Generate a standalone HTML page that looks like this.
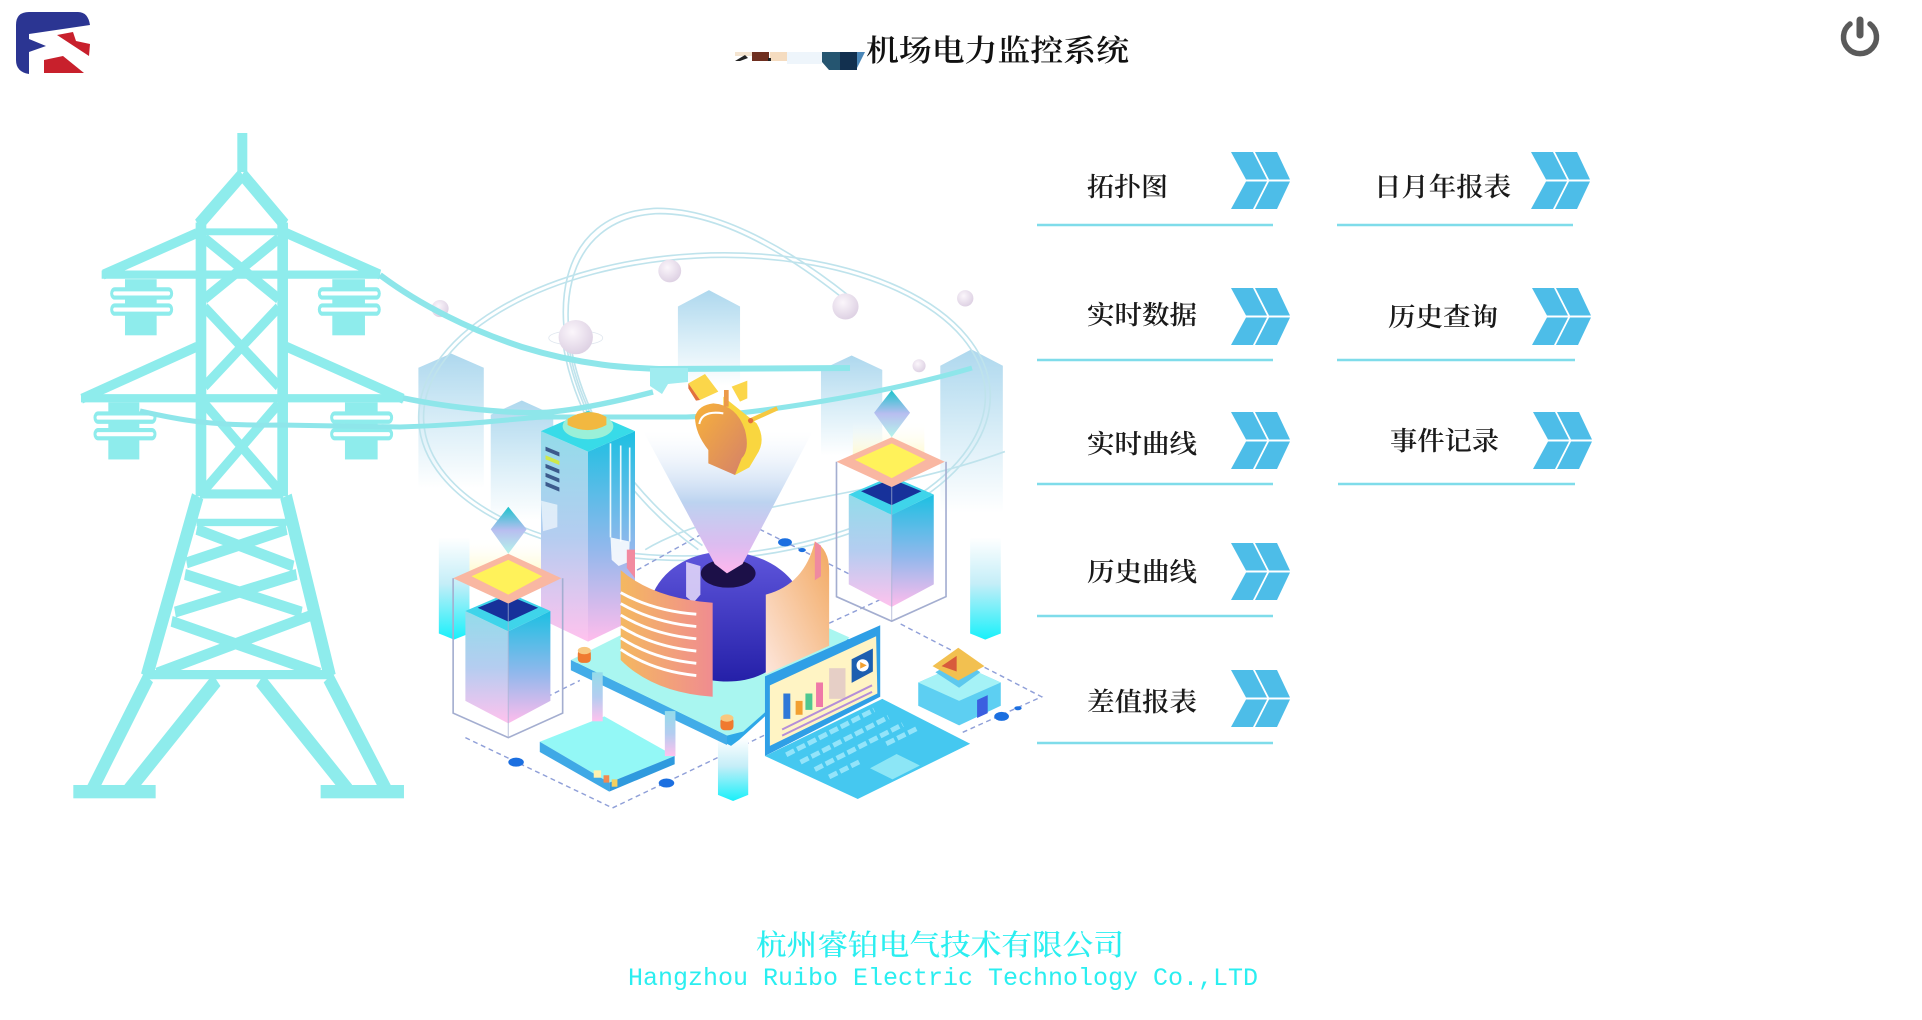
<!DOCTYPE html>
<html lang="zh">
<head>
<meta charset="utf-8">
<title>机场电力监控系统</title>
<style>
html,body{margin:0;padding:0;background:#fff;width:1922px;height:1020px;overflow:hidden}
svg{display:block}
.m{font-family:"Liberation Serif","Noto Serif CJK SC",serif;font-size:26px;fill:#1a1a1a;font-weight:600}
</style>
</head>
<body>
<svg width="1922" height="1020" viewBox="0 0 1922 1020" xmlns="http://www.w3.org/2000/svg">
<defs>
<linearGradient id="pb" x1="0" y1="0" x2="0" y2="1"><stop offset="0" stop-color="#aed8ee"/><stop offset=".55" stop-color="#dceff8"/><stop offset="1" stop-color="#fff"/></linearGradient>
<linearGradient id="pc" x1="0" y1="0" x2="0" y2="1"><stop offset="0" stop-color="#fff"/><stop offset=".45" stop-color="#c5eef8"/><stop offset="1" stop-color="#18f0fa"/></linearGradient>
<linearGradient id="fl" x1="0" y1="0" x2="0" y2="1"><stop offset="0" stop-color="#93dcea"/><stop offset=".5" stop-color="#b4cdf0"/><stop offset="1" stop-color="#ffc2ee"/></linearGradient>
<linearGradient id="fr" x1="0" y1="0" x2="0" y2="1"><stop offset="0" stop-color="#1cc0e2"/><stop offset=".55" stop-color="#90b8ec"/><stop offset="1" stop-color="#ffbcec"/></linearGradient>
<linearGradient id="cone" x1="0" y1="0" x2="0" y2="1"><stop offset="0" stop-color="#fff" stop-opacity=".3"/><stop offset=".5" stop-color="#bcd3f0"/><stop offset=".8" stop-color="#dcbcf0"/><stop offset="1" stop-color="#ffb6ee"/></linearGradient>
<linearGradient id="dome" x1="0" y1="0" x2="0" y2="1"><stop offset="0" stop-color="#5f56dc"/><stop offset="1" stop-color="#2520a8"/></linearGradient>
<linearGradient id="scL" x1="0" y1="0" x2="1" y2="0"><stop offset="0" stop-color="#f4b860"/><stop offset="1" stop-color="#f08c90"/></linearGradient>
<linearGradient id="scR" x1="1" y1="0" x2="0" y2="1"><stop offset="0" stop-color="#f2a860"/><stop offset="1" stop-color="#fde6dc"/></linearGradient>
<linearGradient id="glow" x1="0" y1="0" x2="0" y2="1"><stop offset="0" stop-color="#fff" stop-opacity="0"/><stop offset="1" stop-color="#fff07a"/></linearGradient>
<linearGradient id="gem" x1="0" y1="0" x2="0" y2="1"><stop offset="0" stop-color="#1cc4cc"/><stop offset=".5" stop-color="#b8bef0"/><stop offset="1" stop-color="#b4f4ea"/></linearGradient>
<linearGradient id="bulb" x1="0" y1="0" x2="1" y2="1"><stop offset="0" stop-color="#f8b23a"/><stop offset="1" stop-color="#d4806a"/></linearGradient>
<radialGradient id="sph" cx=".4" cy=".35" r=".7"><stop offset="0" stop-color="#fbf6fb"/><stop offset="1" stop-color="#dccfe2"/></radialGradient>
<g id="chev" fill="#4dbde8">
<polygon points="0,0 22,0 36,27.5 15,27.5"/><polygon points="24,0 46,0 59,27.5 38,27.5"/>
<polygon points="15,29.5 36,29.5 22,57 0,57"/><polygon points="38,29.5 59,29.5 46,57 24,57"/>
</g>
<g id="cube">
<polygon points="170,850 345,850 345,950 265,990 170,950" fill="url(#glow)"/>
<polygon points="265,775 310,830 265,890 222,830" fill="url(#gem)"/>
<polygon points="160,1030 265,1080 265,1305 160,1250" fill="url(#fl)"/>
<polygon points="265,1080 368,1030 368,1250 265,1305" fill="url(#fr)"/>
<polygon points="160,1030 265,985 368,1030 265,1080" fill="#3fd4ea"/>
<polygon points="190,1022 265,992 338,1022 265,1056" fill="#17319a"/>
<polygon points="130,950 265,890 395,950 265,1012" fill="#f9b7a2"/>
<polygon points="175,945 265,905 348,945 265,990" fill="#fff25a"/>
<polyline points="130,950 130,1280 265,1340 398,1280 398,950" fill="none" stroke="#a4aed0" stroke-width="4"/>
<line x1="265" y1="1012" x2="265" y2="1340" stroke="#a4aed0" stroke-width="3" opacity=".6"/>
</g>
</defs>

<!-- logo -->
<path d="M16 25Q16 12 29 12L78 12Q88 12 90 25L29 34L29 39L46 46L29 52L29 74Q16 72 16 60Z" fill="#2b3592"/>
<path d="M57 35L73 32L76 41L90 44L89 56Z" fill="#c8202c"/>
<path d="M44 60L63 56L84 73L44 73Z" fill="#c8202c"/>

<!-- title mosaic -->
<rect x="735" y="52" width="17" height="4" fill="#f4e4d0"/>
<rect x="752" y="52" width="17" height="9" fill="#6f2f20"/>
<rect x="770" y="52" width="17" height="9" fill="#f5dcc0"/>
<rect x="787" y="52" width="35" height="12" fill="#eef5fb"/>
<path d="M735 61L745 55L748 58L740 61Z" fill="#222"/>
<rect x="768" y="58" width="3" height="3" fill="#222"/>
<polygon points="822,52 840,52 840,70 829,70 822,62" fill="#255570"/>
<polygon points="840,52 857,52 857,70 840,70" fill="#12304f"/>
<polygon points="857,52 865,52 857,68" fill="#4a86b8"/>
<text x="866" y="61" textLength="263" lengthAdjust="spacingAndGlyphs" font-family="'Liberation Serif','Noto Serif CJK SC',serif" font-size="30" font-weight="600" fill="#111">机场电力监控系统</text>

<!-- power -->
<path d="M1850 24A16.5 16.5 0 1 0 1870 24" fill="none" stroke="#5a5a5a" stroke-width="5.5" stroke-linecap="round"/>
<line x1="1860" y1="20" x2="1860" y2="35" stroke="#5a5a5a" stroke-width="7" stroke-linecap="round"/>

<!-- back of illustration -->
<g transform="translate(400,190) scale(.4087)">
<polygon points="45,435 125,400 205,435 205,730 45,730" fill="url(#pb)"/>
<polygon points="680,285 756,245 832,285 832,480 680,480" fill="url(#pb)"/>
<polygon points="1030,440 1105,405 1180,440 1180,650 1030,650" fill="url(#pb)"/>
<polygon points="1322,430 1398,390 1475,430 1475,790 1322,790" fill="url(#pb)"/>
<polygon points="222,550 298,515 375,550 375,810 222,810" fill="url(#pb)"/>
<polygon points="95,850 170,850 170,1085 132,1100 95,1085" fill="url(#pc)"/>
<polygon points="1395,850 1470,850 1470,1085 1432,1100 1395,1085" fill="url(#pc)"/>
<g fill="none" stroke="#bfe3ec" stroke-width="4">
<ellipse cx="745" cy="530" rx="700" ry="375" transform="rotate(-3 745 530)"/>
<ellipse cx="745" cy="530" rx="688" ry="364" transform="rotate(-3 745 530)"/>
<path d="M470 570C340 300 390 60 620 45C800 40 1000 180 1100 260"/>
<path d="M482 570C352 310 402 72 625 58C800 52 990 190 1090 270"/>
<path d="M395 350C420 560 560 760 730 880"/>
<path d="M408 350C432 555 570 750 740 870"/>
<path d="M600 880C800 760 1150 760 1480 640"/>
</g>
<ellipse cx="430" cy="362" rx="66" ry="18" fill="none" stroke="#dfe6ee" stroke-width="2"/>
<circle cx="660" cy="198" r="28" fill="url(#sph)"/>
<circle cx="98" cy="290" r="21" fill="url(#sph)"/>
<circle cx="430" cy="360" r="42" fill="url(#sph)"/>
<circle cx="1090" cy="285" r="32" fill="url(#sph)"/>
<circle cx="1383" cy="265" r="20" fill="url(#sph)"/>
<circle cx="1270" cy="430" r="16" fill="url(#sph)"/>
</g>

<!-- tower -->
<g transform="translate(0,110) scale(.3333,.4598)" fill="none" stroke="#8eecec" stroke-width="24">
<rect x="712" y="50" width="30" height="85" fill="#8eecec" stroke="none"/>
<path d="M727 140L595 250M727 140L855 250" stroke-width="30"/>
<path d="M603 245V840M848 245V840" stroke-width="32"/>
<path d="M600 265H850" stroke-width="15"/>
<path d="M590 268L310 358M860 268L1140 358" stroke-width="22"/>
<path d="M305 358H1140" stroke-width="18"/>
<path d="M590 515L245 628M860 515L1210 628" stroke-width="22"/>
<path d="M243 627H1210" stroke-width="18"/>
<path d="M615 280L835 410M835 280L615 410M615 430L835 600M835 430L615 600M615 640L835 825M835 640L615 825"/>
<path d="M600 835H850" stroke-width="20"/>
<path d="M593 840L440 1232M858 840L990 1232" stroke-width="36"/>
<path d="M590 897H860" stroke-width="16"/>
<path d="M590 912L880 992M860 912L560 985M555 1010L905 1092M890 1010L525 1092M515 1112L960 1225M930 1100L470 1225"/>
<path d="M440 1228H990" stroke-width="20"/>
<path d="M445 1235L275 1480M650 1240L385 1480M780 1240L1045 1480M985 1235L1160 1480" stroke-width="34"/>
<g fill="#8eecec" stroke="none">
<rect x="220" y="1468" width="247" height="29"/><rect x="962" y="1468" width="250" height="29"/>
<rect x="375" y="368" width="95" height="122"/><rect x="997" y="368" width="98" height="122"/>
<rect x="325" y="636" width="93" height="124"/><rect x="1035" y="636" width="98" height="124"/>
</g>
<g fill="#fff" stroke="#8eecec" stroke-width="9">
<rect x="335" y="390" width="180" height="18" rx="9"/><rect x="335" y="425" width="180" height="18" rx="9"/>
<rect x="958" y="390" width="180" height="18" rx="9"/><rect x="958" y="425" width="180" height="18" rx="9"/>
<rect x="285" y="660" width="180" height="18" rx="9"/><rect x="285" y="696" width="180" height="18" rx="9"/>
<rect x="995" y="660" width="180" height="18" rx="9"/><rect x="995" y="696" width="180" height="18" rx="9"/>
</g>
</g>

<!-- wires -->
<g fill="none" stroke="#8ee6ea">
<path d="M380 275C420 305 470 330 522 347C590 368 640 368 660 369L850 368" stroke-width="6"/>
<path d="M403 398C450 408 520 415 551 412C590 408 630 398 653 392" stroke-width="5.5"/>
<path d="M140 411C180 420 210 426 280 425L400 427C470 425 510 419 543 417L686 417C750 415 880 395 972 368" stroke-width="5"/>
</g>
<polygon points="650,368 688,368 688,382 668,384 662,394 650,386" fill="#a0ecf0"/>

<!-- illustration foreground -->
<g transform="translate(400,190) scale(.4087)">
<g fill="none" stroke="#8f9fd8" stroke-width="3.5" stroke-dasharray="12 9">
<path d="M160 1340L520 1512L900 1330"/>
<path d="M580 930L760 830"/>
<path d="M880 830L1100 940"/>
<path d="M1050 1060L1180 1000"/>
<path d="M1225 1062L1570 1240L1370 1330"/>
<path d="M360 1240L440 1200"/>
</g>
<g fill="#1b6fe0">
<ellipse cx="942" cy="862" rx="17" ry="10"/><ellipse cx="984" cy="881" rx="9" ry="5"/>
<ellipse cx="284" cy="1400" rx="19" ry="11"/><ellipse cx="652" cy="1451" rx="19" ry="11"/>
<ellipse cx="1472" cy="1288" rx="18" ry="11"/><ellipse cx="1512" cy="1268" rx="9" ry="5"/>
</g>
<polygon points="778,1340 852,1340 852,1480 815,1495 778,1480" fill="url(#pc)"/>

<!-- server tower -->
<polygon points="345,590 460,640 460,1105 345,1050" fill="url(#fl)"/>
<polygon points="460,640 575,590 575,1050 460,1105" fill="url(#fr)"/>
<polygon points="345,590 460,540 575,590 460,640" fill="#38dbe8"/>
<ellipse cx="460" cy="578" rx="62" ry="32" fill="#9af0d8"/>
<path d="M410 560Q460 530 505 555L505 575Q460 600 410 575Z" fill="#f2b840"/>
<g fill="#3c5a8c"><polygon points="356,628 390,642 390,652 356,638"/><polygon points="356,670 390,684 390,694 356,680"/><polygon points="356,692 390,706 390,716 356,702"/><polygon points="356,714 390,728 390,738 356,724"/></g>
<polygon points="356,649 390,663 390,673 356,659" fill="#cfe84a"/>
<polygon points="345,760 385,770 385,825 350,835" fill="#fff" opacity=".6"/>
<g fill="none" stroke="#eaf8fc" stroke-width="4"><path d="M515 620V850M540 625V860M562 630V860"/></g>
<polygon points="515,850 562,860 560,910 535,920 518,905" fill="#fff" opacity=".85"/>

<use href="#cube"/>
<use href="#cube" x="938" y="-285"/>

<!-- platform -->
<polygon points="418,1165 800,980 1100,1100 830,1345 810,1360" fill="#2ea8e8"/>
<polygon points="418,1150 800,960 1100,1095 840,1325 800,1335" fill="#a9f6f0"/>
<polygon points="418,1150 800,1335 800,1358 418,1175" fill="#42ace8"/>
<g><rect x="435" y="1125" width="32" height="32" rx="10" fill="#f07a30"/><ellipse cx="451" cy="1127" rx="16" ry="9" fill="#f8c880"/>
<rect x="784" y="1290" width="32" height="32" rx="10" fill="#f07a30"/><ellipse cx="800" cy="1292" rx="16" ry="9" fill="#f8c880"/></g>

<!-- dome -->
<path d="M620 985C650 920 720 885 795 885C870 885 940 920 972 975L895 1180C850 1205 800 1205 765 1200Z" fill="url(#dome)"/>
<ellipse cx="803" cy="938" rx="67" ry="35" fill="#1c1048"/>
<polygon points="700,910 735,920 735,990 718,1010 700,995" fill="#e8dcfa" opacity=".85"/>

<!-- screens -->
<path d="M540 930Q620 1000 765 1010L765 1240Q620 1230 540 1150Z" fill="url(#scL)"/>
<polygon points="555,880 575,880 575,950 555,925" fill="#f28aa0"/>
<g fill="none" stroke="#fff" stroke-width="7">
<path d="M540 985Q620 1030 725 1038"/><path d="M540 1012Q620 1058 725 1068"/><path d="M540 1040Q620 1088 725 1098"/><path d="M540 1068Q620 1118 725 1128"/><path d="M540 1096Q620 1148 725 1158"/><path d="M540 1124Q620 1178 725 1188"/>
</g>
<path d="M895 990Q990 965 1015 860Q1050 880 1050 930L1050 1115L895 1185Z" fill="url(#scR)"/>
<polygon points="1015,860 1030,870 1030,945 1015,955" fill="#ef8aa0"/>

<!-- light cone -->
<polygon points="595,590 1010,590 838,915 800,938 770,915" fill="url(#cone)"/>

<!-- laptop -->
<polygon points="893,1190 1175,1065 1175,1240 893,1385" fill="#2f9fe6"/>
<polygon points="905,1212 1165,1092 1168,1232 905,1360" fill="#fff4c4"/>
<polygon points="1105,1148 1157,1122 1157,1178 1105,1206" fill="#1d5fb0"/>
<circle cx="1132" cy="1163" r="15" fill="#fff"/><polygon points="1126,1155 1142,1163 1126,1171" fill="#f2a030"/>
<rect x="938" y="1232" width="17" height="62" fill="#2f78d8"/><rect x="968" y="1250" width="17" height="34" fill="#f2a030"/><rect x="992" y="1232" width="17" height="40" fill="#4ec890"/><rect x="1018" y="1205" width="17" height="60" fill="#ef7aa8"/><rect x="1050" y="1170" width="40" height="75" fill="#e6cfc6"/>
<path d="M935 1320L1155 1212M935 1335L1155 1228" stroke="#b58fd8" stroke-width="5"/>
<polygon points="893,1385 1180,1245 1395,1355 1120,1490" fill="#45c8f0"/>
<g fill="none" stroke="#93e4fa" stroke-width="12" stroke-dasharray="22 8">
<path d="M945 1382L1160 1272"/><path d="M980 1400L1195 1290"/><path d="M1015 1418L1230 1308"/><path d="M1050 1436L1130 1396"/><path d="M1190 1355L1268 1316"/>
</g>
<polygon points="1150,1415 1215,1380 1272,1408 1205,1442" fill="#8ce6f6"/>

<!-- router -->
<polygon points="342,1350 500,1288 672,1385 512,1450" fill="#93f8f6"/>
<polygon points="342,1350 512,1450 512,1472 342,1375" fill="#3fa9e6"/>
<polygon points="512,1450 672,1385 672,1405 512,1472" fill="#2f9ade"/>
<rect x="474" y="1420" width="18" height="18" fill="#fff2b0"/><rect x="498" y="1432" width="14" height="18" fill="#f28a50"/><rect x="518" y="1442" width="14" height="18" fill="#f2d060"/>
<rect x="470" y="1180" width="26" height="120" fill="url(#fl)"/><rect x="648" y="1275" width="26" height="110" fill="url(#fl)"/>

<!-- house -->
<polygon points="1268,1205 1370,1160 1470,1205 1470,1262 1368,1310 1268,1262" fill="#5dcff2"/>
<polygon points="1268,1205 1368,1250 1470,1205 1370,1160" fill="#a5f2f6"/>
<polygon points="1310,1180 1368,1145 1420,1180 1368,1218" fill="#5dc8ee"/>
<polygon points="1303,1165 1366,1120 1430,1165 1366,1200" fill="#f2c050"/>
<polygon points="1325,1165 1362,1140 1362,1178" fill="#d85a3c"/>
<polygon points="1412,1248 1438,1236 1438,1280 1412,1292" fill="#3b5fe0"/>
</g>

<!-- bulb -->
<g transform="translate(660,360) scale(.3333)">
<path d="M190 110L290 190Q320 240 290 285L268 322L225 345L205 300L190 200Z" fill="#f9d63f"/>
<path d="M105 170Q115 135 160 130Q230 135 255 210Q270 270 245 295L225 345L145 310L145 270Q105 220 105 170Z" fill="url(#bulb)"/>
<polygon points="85,70 135,42 175,95 120,120" fill="#fbd64a"/><polygon points="85,70 120,120 108,122 85,85" fill="#e2703c"/>
<polygon points="215,80 262,62 262,115 240,125" fill="#fbd64a"/>
<rect x="192" y="90" width="14" height="50" fill="#ec9a4a"/>
<path d="M270 182L352 145" stroke="#f6c840" stroke-width="13" fill="none"/>
<circle cx="272" cy="182" r="8" fill="#e2703c"/>
<path d="M118 192Q125 150 190 160" stroke="#fff" stroke-width="6" fill="none"/>
</g>

<!-- menu -->
<g stroke="#7fdcea" stroke-width="2.6">
<line x1="1037" y1="225" x2="1273" y2="225"/><line x1="1037" y1="360" x2="1273" y2="360"/><line x1="1037" y1="484" x2="1273" y2="484"/><line x1="1037" y1="616" x2="1273" y2="616"/><line x1="1037" y1="743" x2="1273" y2="743"/>
<line x1="1337" y1="225" x2="1573" y2="225"/><line x1="1337" y1="360" x2="1575" y2="360"/><line x1="1338" y1="484" x2="1575" y2="484"/>
</g>
<use href="#chev" x="1231" y="152"/><use href="#chev" x="1231" y="288"/><use href="#chev" x="1231" y="412"/><use href="#chev" x="1231" y="543"/><use href="#chev" x="1231" y="670"/>
<use href="#chev" x="1531" y="152"/><use href="#chev" x="1532" y="288"/><use href="#chev" x="1533" y="412"/>

<text class="m" x="1087" y="196" textLength="81" lengthAdjust="spacingAndGlyphs">拓扑图</text>
<text class="m" x="1087" y="324" textLength="110" lengthAdjust="spacingAndGlyphs">实时数据</text>
<text class="m" x="1087" y="453" textLength="110" lengthAdjust="spacingAndGlyphs">实时曲线</text>
<text class="m" x="1087" y="581" textLength="110" lengthAdjust="spacingAndGlyphs">历史曲线</text>
<text class="m" x="1087" y="711" textLength="110" lengthAdjust="spacingAndGlyphs">差值报表</text>
<text class="m" x="1374" y="196" textLength="137" lengthAdjust="spacingAndGlyphs">日月年报表</text>
<text class="m" x="1388" y="326" textLength="110" lengthAdjust="spacingAndGlyphs">历史查询</text>
<text class="m" x="1390" y="450" textLength="109" lengthAdjust="spacingAndGlyphs">事件记录</text>

<!-- footer -->
<text x="756" y="955" textLength="368" lengthAdjust="spacingAndGlyphs" font-family="'Liberation Serif','Noto Serif CJK SC',serif" font-size="29" font-weight="500" fill="#2aeef0">杭州睿铂电气技术有限公司</text>
<text x="628" y="985" textLength="630" lengthAdjust="spacingAndGlyphs" font-family="'Liberation Mono',monospace" font-size="25" fill="#2aeef0">Hangzhou Ruibo Electric Technology Co.,LTD</text>
</svg>
</body>
</html>
